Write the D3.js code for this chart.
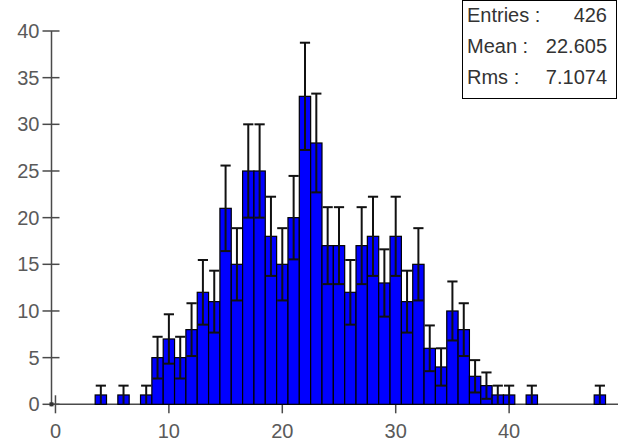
<!DOCTYPE html>
<html>
<head>
<meta charset="utf-8">
<script src="https://cdn.jsdelivr.net/npm/d3@7"></script>
<style>
  html, body { margin: 0; padding: 0; background: #fff; }
  svg { display: block; }
</style>
</head>
<body>
<svg id="chart" width="618" height="441"></svg>
<script>
// Histogram bins (unit width, centred on integers) and their counts
const binCenters = [4, 6, 8, 9, 10, 11, 12, 13, 14, 15, 16, 17, 18, 19, 20, 21, 22, 23, 24,
                    25, 26, 27, 28, 29, 30, 31, 32, 33, 34, 35, 36, 37, 38, 39, 40, 42, 48];
const counts     = [1, 1, 1, 5, 7, 5, 8, 12, 11, 21, 15, 25, 25, 18, 15, 20, 33, 28, 17,
                    17, 12, 17, 18, 13, 18, 11, 15, 6, 4, 10, 8, 3, 2, 1, 1, 1, 1];

const xTicks = [0, 10, 20, 30, 40];
const yTicks = [0, 5, 10, 15, 20, 25, 30, 35, 40];

const statLabels = ["Entries :", "Mean :", "Rms :"];
const statValues = ["426", "22.605", "7.1074"];

const svg = d3.select("#chart");
const W = 618, H = 441;

const x = d3.scaleLinear().domain([-0.35, 49.6]).range([51.5, 618]);
const y = d3.scaleLinear().domain([0, 40]).range([404.3, 31]);

const axisColor = "#4a4a4a";
const labelColor = "#5a5a5a";
const font = "'Liberation Sans', Arial, sans-serif";

// Axes lines
const axes = svg.append("g");
axes.append("line")
  .attr("x1", x(-0.35)).attr("x2", x(-0.35))
  .attr("y1", y(40)).attr("y2", y(0) + 2)
  .attr("stroke", axisColor).attr("stroke-width", 1.5);
axes.append("line")
  .attr("x1", x(-0.35)).attr("x2", W)
  .attr("y1", y(0)).attr("y2", y(0))
  .attr("stroke", axisColor).attr("stroke-width", 1.5);

// Y ticks crossing the axis
const yAxisX = x(-0.35);
axes.selectAll(".ytick").data(yTicks).enter().append("line")
  .attr("x1", yAxisX - 9).attr("x2", yAxisX + 8)
  .attr("y1", d => y(d)).attr("y2", d => y(d))
  .attr("stroke", axisColor).attr("stroke-width", 1.5);
axes.selectAll(".ylab").data(yTicks).enter().append("text")
  .attr("x", yAxisX - 12).attr("y", d => y(d) + 7)
  .attr("text-anchor", "end")
  .attr("font-family", font).attr("font-size", 20)
  .attr("fill", labelColor)
  .text(d => d);

// X ticks crossing the axis
axes.selectAll(".xtick").data(xTicks).enter().append("line")
  .attr("x1", d => x(d)).attr("x2", d => x(d))
  .attr("y1", y(0) - 9).attr("y2", y(0) + 9)
  .attr("stroke", axisColor).attr("stroke-width", 1.5);
axes.selectAll(".xlab").data(xTicks).enter().append("text")
  .attr("x", d => x(d)).attr("y", 438)
  .attr("text-anchor", "middle")
  .attr("font-family", font).attr("font-size", 20)
  .attr("fill", labelColor)
  .text(d => d);

// Origin marker
axes.append("rect")
  .attr("x", yAxisX - 2).attr("y", y(0) - 2)
  .attr("width", 4).attr("height", 4)
  .attr("fill", "#333");

// Bars
const data = binCenters.map((c, i) => ({ c, n: counts[i] }));
svg.append("g").selectAll("rect").data(data).enter().append("rect")
  .attr("x", d => x(d.c - 0.5))
  .attr("y", d => y(d.n))
  .attr("width", d => x(d.c + 0.5) - x(d.c - 0.5))
  .attr("height", d => y(0) - y(d.n))
  .attr("fill", "#0000ff")
  .attr("stroke", "#000")
  .attr("stroke-width", 1.2);

// Poisson error bars: n ± sqrt(n)
const capHalf = (x(1) - x(0)) * 0.45;
const eb = svg.append("g").attr("stroke", "#111").attr("stroke-width", 2).attr("fill", "none");
data.forEach(d => {
  const e = Math.sqrt(d.n);
  const cx = x(d.c);
  const top = y(d.n + e), bot = y(Math.max(0, d.n - e));
  eb.append("line").attr("x1", cx).attr("x2", cx).attr("y1", top).attr("y2", bot);
  eb.append("line").attr("x1", cx - capHalf).attr("x2", cx + capHalf).attr("y1", top).attr("y2", top);
  if (d.n - e > 0.05) {
    eb.append("line").attr("x1", cx - capHalf).attr("x2", cx + capHalf).attr("y1", bot).attr("y2", bot);
  }
});

// Statistics box
const box = svg.append("g");
box.append("rect")
  .attr("x", 462.5).attr("y", 0.5).attr("width", 154).attr("height", 98)
  .attr("fill", "#fff").attr("stroke", "#000").attr("stroke-width", 1);
statLabels.forEach((t, i) => {
  box.append("text")
    .attr("x", 467).attr("y", 22 + i * 31)
    .attr("font-family", font).attr("font-size", 20)
    .attr("fill", "#333")
    .text(t);
  box.append("text")
    .attr("x", 607).attr("y", 22 + i * 31)
    .attr("text-anchor", "end")
    .attr("font-family", font).attr("font-size", 20)
    .attr("fill", "#333")
    .text(statValues[i]);
});
</script>
</body>
</html>
